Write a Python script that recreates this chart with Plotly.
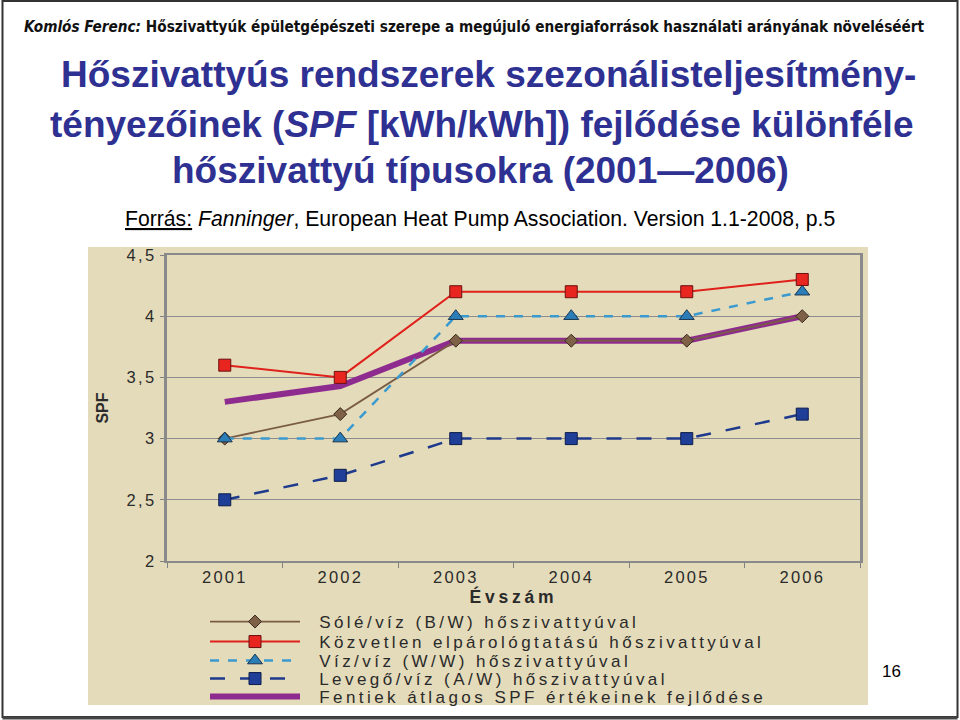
import plotly.graph_objects as go

years = ["2001", "2002", "2003", "2004", "2005", "2006"]
sole_viz = [3.0, 3.2, 3.8, 3.8, 3.8, 4.0]
kozvetlen = [3.6, 3.5, 4.2, 4.2, 4.2, 4.3]
viz_viz = [3.0, 3.0, 4.0, 4.0, 4.0, 4.2]
levego_viz = [2.5, 2.7, 3.0, 3.0, 3.0, 3.2]
atlag = [3.30, 3.43, 3.8, 3.8, 3.8, 4.0]

y_ticks = [2, 2.5, 3, 3.5, 4, 4.5]
y_ticklabels = ["2", "2,5", "3", "3,5", "4", "4,5"]

names = [
    "Sólé/víz (B/W) hőszivattyúval",
    "Közvetlen elpárológtatású hőszivattyúval",
    "Víz/víz (W/W) hőszivattyúval",
    "Levegő/víz (A/W) hőszivattyúval",
    "Fentiek átlagos SPF értékeinek fejlődése",
]

W, H = 960, 720
def px(x): return x / W
def py(y): return 1 - y / H

LS = "letter-spacing:3.45px"
def sp(t, s=LS):
    return f'<span style="{s}">{t}</span>'
def lname(t):
    return "&nbsp;&nbsp;&nbsp;" + sp(t)

fig = go.Figure()

fig.add_trace(go.Scatter(x=years, y=atlag, name=lname(names[4]), mode="lines",
                         line=dict(color="#8E2B8E", width=6), legend="legend5"))
fig.add_trace(go.Scatter(x=years, y=sole_viz, name=lname(names[0]), mode="lines+markers",
                         line=dict(color="#7A5C44", width=1.8),
                         marker=dict(symbol="diamond", size=10, color="#7E6147",
                                     line=dict(color="#3a2a1e", width=1)), legend="legend"))
fig.add_trace(go.Scatter(x=years, y=viz_viz, name=lname(names[2]), mode="lines+markers",
                         line=dict(color="#3A9AD0", width=2.5, dash="dash"),
                         marker=dict(symbol="triangle-up", size=13, color="#2B7DB8",
                                     line=dict(color="#1a3550", width=1)), legend="legend3"))
fig.add_trace(go.Scatter(x=years, y=kozvetlen, name=lname(names[1]), mode="lines+markers",
                         line=dict(color="#E0201B", width=2),
                         marker=dict(symbol="square", size=12, color="#E8251F",
                                     line=dict(color="#6a1010", width=1)), legend="legend2"))
fig.add_trace(go.Scatter(x=years, y=levego_viz, name=lname(names[3]), mode="lines+markers",
                         line=dict(color="#1E3A8C", width=2.5, dash="longdash"),
                         marker=dict(symbol="square", size=12, color="#1F3E98",
                                     line=dict(color="#0c1c4c", width=1)), legend="legend4"))

tickfont = dict(family="Liberation Sans, Arial, sans-serif", size=16.5, color="#2b2b2b")
legfont = dict(family="Liberation Sans, Arial, sans-serif", size=17, color="#2a2a2a")

def leg(yc):
    return dict(x=px(205), y=py(yc), xanchor="left", yanchor="middle",
                bgcolor="rgba(0,0,0,0)", itemwidth=90, font=legfont,
                borderwidth=0)

fig.update_layout(
    width=W, height=H,
    margin=dict(l=0, r=0, t=0, b=0, autoexpand=False),
    paper_bgcolor="white",
    plot_bgcolor="#D3D3D3",
    showlegend=True,
    legend=leg(622), legend2=leg(642), legend3=leg(661), legend4=leg(679), legend5=leg(697),
    xaxis=dict(domain=[px(167), px(860)], type="category", range=[-0.5, 5.5],
               tickmode="array", tickvals=years,
               ticktext=[sp(y, "letter-spacing:2.2px") for y in years],
               tickson="boundaries", ticks="outside", ticklen=5, tickcolor="#808080",
               showgrid=False, showline=True, linecolor="#8a8a8a", linewidth=2,
               mirror=True, tickfont=tickfont, zeroline=False,
               title=dict(text=sp("<b>Évszám</b>", "letter-spacing:3.8px"),
                          font=dict(family="Liberation Sans, Arial, sans-serif", size=17.5, color="#2b2b2b"),
                          standoff=4)),
    yaxis=dict(domain=[1 - 561 / H, 1 - 255 / H], range=[2, 4.5],
               tickmode="array", tickvals=y_ticks,
               ticktext=[sp(t, "letter-spacing:2.4px") for t in y_ticklabels],
               ticks="outside", ticklen=4, tickcolor="#808080",
               showgrid=True, gridcolor="#8c8c8c", gridwidth=1,
               showline=True, linecolor="#8a8a8a", linewidth=3, mirror=True,
               tickfont=tickfont, zeroline=False,
               title=dict(text="<b>SPF</b>",
                          font=dict(family="Liberation Sans, Arial, sans-serif", size=16, color="#2b2b2b"),
                          standoff=14)),
)

# chart panel background
fig.add_shape(type="rect", xref="paper", yref="paper", x0=px(88), x1=px(868), y0=py(705), y1=py(247),
              fillcolor="#E4DBBA", line=dict(width=0), layer="below")
# slide frame
fig.add_shape(type="rect", xref="paper", yref="paper", x0=px(2.5), x1=px(957.5), y0=py(717), y1=py(1),
              fillcolor="rgba(0,0,0,0)", line=dict(color="#333333", width=2))
fig.add_shape(type="line", xref="paper", yref="paper", x0=px(2.5), x1=px(957.5), y0=py(718), y1=py(718),
              line=dict(color="#444444", width=3))

title_font = dict(family="Liberation Sans, Arial, sans-serif", size=37, color="#2E3192")
fig.add_annotation(xref="paper", yref="paper", x=px(22), y=py(27), xanchor="left", yanchor="middle",
                   text="<b><i>Komlós Ferenc:</i> Hőszivattyúk épületgépészeti szerepe a megújuló energiaforrások használati arányának növeléséért</b>",
                   showarrow=False,
                   font=dict(family="Liberation Sans Narrow, Arial Narrow, DejaVu Sans Condensed, sans-serif", size=15.2, color="#111"))
fig.add_annotation(xref="paper", yref="paper", x=px(488), y=py(75), xanchor="center", yanchor="middle",
                   text="<b>Hőszivattyús rendszerek szezonálisteljesítmény-</b>", showarrow=False, font=title_font)
fig.add_annotation(xref="paper", yref="paper", x=px(481), y=py(124), xanchor="center", yanchor="middle",
                   text="<b>tényezőinek (<i>SPF</i> [kWh/kWh]) fejlődése különféle</b>", showarrow=False, font=title_font)
fig.add_annotation(xref="paper", yref="paper", x=px(480), y=py(170), xanchor="center", yanchor="middle",
                   text="<b>hőszivattyú típusokra (2001—2006)</b>", showarrow=False, font=title_font)
fig.add_annotation(xref="paper", yref="paper", x=px(480), y=py(219), xanchor="center", yanchor="middle",
                   text="<u>Forrás:</u> <i>Fanninger</i>, European Heat Pump Association. Version 1.1-2008, p.5",
                   showarrow=False,
                   font=dict(family="Liberation Sans, Arial, sans-serif", size=21.2, color="#000"))
fig.add_annotation(xref="paper", yref="paper", x=px(891), y=py(671), xanchor="center", yanchor="middle",
                   text="16", showarrow=False,
                   font=dict(family="Liberation Sans, Arial, sans-serif", size=17, color="#000"))

fig.write_html("out.html")
